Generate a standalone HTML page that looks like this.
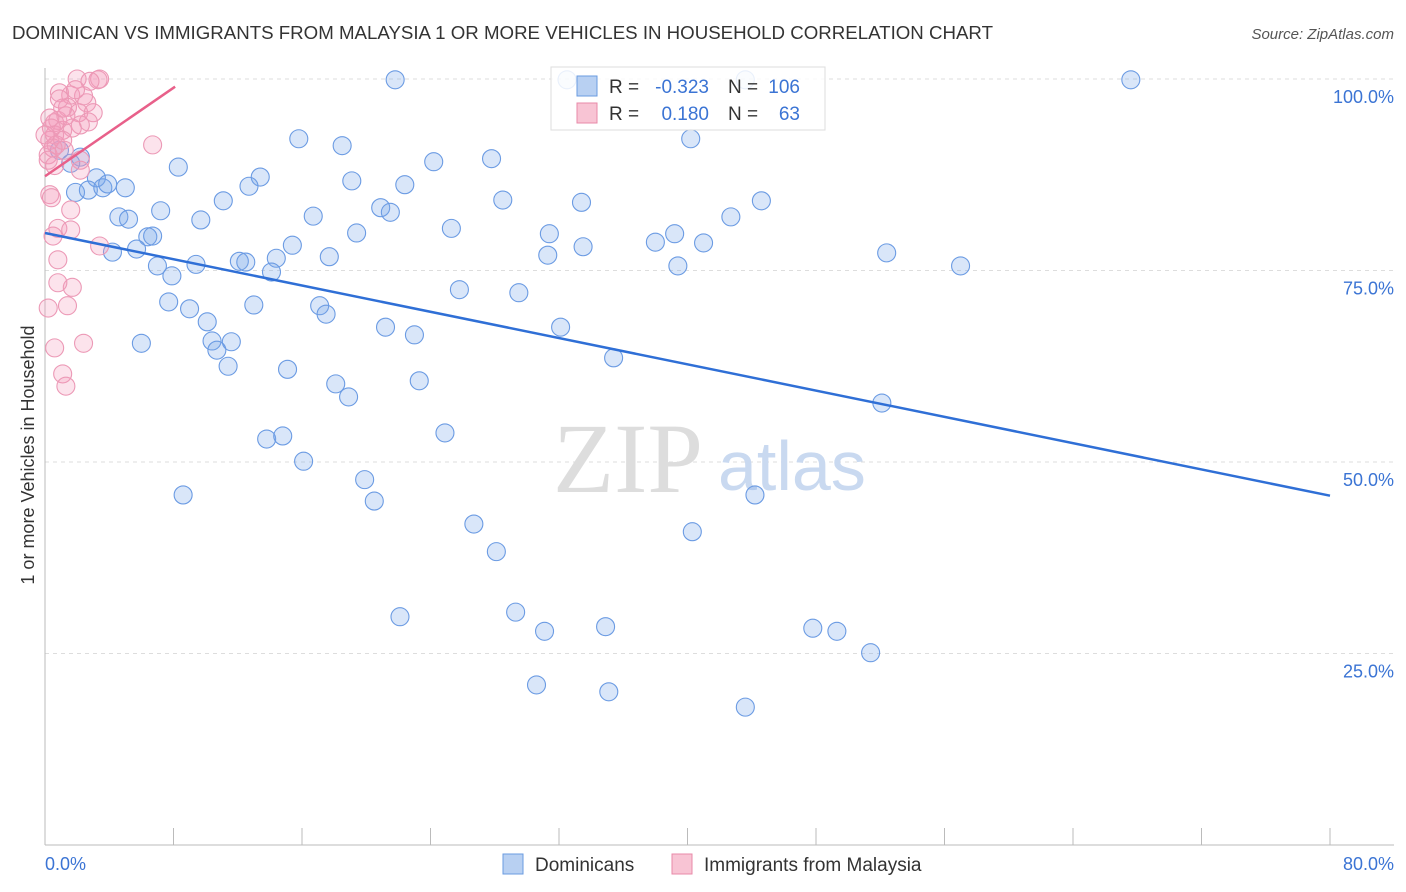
<!DOCTYPE html>
<html><head><meta charset="utf-8"><style>
body{margin:0;background:#fff;font-family:"Liberation Sans",sans-serif;}
svg{display:block}
</style></head><body>
<svg width="1406" height="892">
<text x="12" y="39" font-size="18" fill="#333" textLength="981" lengthAdjust="spacingAndGlyphs">DOMINICAN VS IMMIGRANTS FROM MALAYSIA 1 OR MORE VEHICLES IN HOUSEHOLD CORRELATION CHART</text>
<text x="1394" y="39" font-size="15" fill="#555" font-style="italic" text-anchor="end">Source: ZipAtlas.com</text>
<g id="grid"></g>
<text x="553" y="492" font-size="100" fill="#ddd" font-family="Liberation Serif,serif">ZIP</text>
<text x="718" y="490" font-size="70" fill="#c9d9f0">atlas</text>
<g id="pts"></g>
<g id="lines"></g>
<text x="34" y="455" font-size="18" fill="#333" text-anchor="middle" transform="rotate(-90 34 455)">1 or more Vehicles in Household</text>
<text x="45" y="870" font-size="18" fill="#3b74d4">0.0%</text>
<text x="1394" y="870" font-size="18" fill="#3b74d4" text-anchor="end">80.0%</text>
<g>
<rect x="551" y="67" width="274" height="63" fill="#fff" fill-opacity="0.85" stroke="#ddd"/>
<rect x="577" y="76" width="20" height="20" fill="#b8d0f2" stroke="#6a9be0"/>
<rect x="577" y="103" width="20" height="20" fill="#f8c4d4" stroke="#e88aa8"/>
<text x="609" y="93" font-size="19" fill="#333">R =</text>
<text x="709" y="93" font-size="19" fill="#3b74d4" text-anchor="end">-0.323</text>
<text x="728" y="93" font-size="19" fill="#333">N =</text>
<text x="800" y="93" font-size="19" fill="#3b74d4" text-anchor="end">106</text>
<text x="609" y="120" font-size="19" fill="#333">R =</text>
<text x="709" y="120" font-size="19" fill="#3b74d4" text-anchor="end">0.180</text>
<text x="728" y="120" font-size="19" fill="#333">N =</text>
<text x="800" y="120" font-size="19" fill="#3b74d4" text-anchor="end">63</text>
</g>
<g>
<rect x="503" y="854" width="20" height="20" fill="#b8d0f2" stroke="#6a9be0"/>
<text x="535" y="871" font-size="19" fill="#333">Dominicans</text>
<rect x="672" y="854" width="20" height="20" fill="#f8c4d4" stroke="#e88aa8"/>
<text x="704" y="871" font-size="19" fill="#333">Immigrants from Malaysia</text>
</g>
</svg>
<script>
const blueX=[21.8,67.6,15.8,18.5,40.2,8.3,24.2,27.8,0.9,2.2,1.6,3.2,1.9,2.7,3.6,3.9,5.0,13.4,12.7,19.1,22.4,11.1,28.5,33.4,44.6,7.2,4.6,5.2,9.7,16.7,20.9,21.5,42.7,25.3,19.4,31.4,39.2,6.4,6.7,5.7,4.2,15.4,38.0,41.0,33.5,31.3,52.4,12.1,12.5,14.4,17.7,7.0,9.4,14.1,7.9,39.4,57.0,25.8,29.5,7.7,13.0,9.0,17.1,17.5,10.1,21.2,23.0,32.1,10.4,11.6,6.0,10.7,11.4,15.1,35.4,18.1,23.3,18.9,52.1,24.9,13.8,14.8,16.1,19.9,8.6,20.5,44.2,26.7,40.3,28.1,22.1,29.3,31.1,34.9,47.8,49.3,51.4,30.6,35.1,43.6,32.5,43.6];
const blueY=[99.9,99.9,92.2,91.3,92.2,88.5,89.2,89.6,90.7,89.8,89.0,87.1,85.2,85.5,85.8,86.3,85.8,87.2,86.0,86.7,86.2,84.1,84.2,83.9,84.1,82.8,82.0,81.7,81.6,82.1,83.2,82.6,82.0,80.5,79.9,79.8,79.8,79.4,79.5,77.8,77.4,78.3,78.7,78.6,78.1,77.0,77.3,76.2,76.1,76.6,76.8,75.6,75.8,74.8,74.3,75.6,75.6,72.5,72.1,70.9,70.5,70.0,70.4,69.3,68.3,67.6,66.6,67.6,65.8,65.7,65.5,64.6,62.5,62.1,63.6,60.2,60.6,58.5,57.7,53.8,53.0,53.4,50.1,47.7,45.7,44.9,45.7,41.9,40.9,38.3,29.8,30.4,27.9,28.5,28.3,27.9,25.1,20.9,20.0,18.0,99.9,99.9];
const pinkX=[2.0,3.3,3.4,2.8,1.6,0.9,2.6,1.4,2.1,3.0,2.7,0.6,2.2,1.1,0.6,0.3,0.7,1.2,0.2,0.5,0.8,1.7,1.3,2.4,6.7,2.2,2.2,0.3,0.4,1.6,0.8,0.5,1.6,3.4,0.8,1.7,0.8,1.4,0.2,0.6,2.4,1.1,1.3,1.1,0.4,0.9,1.9,0.2,0.6,1.1,0.0,0.3];
const pinkY=[100,99.9,100,99.7,97.9,98.2,96.9,96.3,95.6,95.6,94.4,94.3,94.0,93.3,92.7,92.0,91.4,90.7,90.1,91.0,94.6,93.6,95.2,97.8,91.4,89.4,88.1,84.9,84.5,82.9,80.5,79.5,80.3,78.2,76.4,72.8,73.4,70.4,70.1,64.9,65.5,61.5,59.9,92.0,93.6,97.4,98.6,89.4,88.7,96.2,92.7,94.9];
const blueTrend=[0,79.9,80,45.6];
const pinkTrend=[0,87.3,8.1,99.0];
const yTicks=[100,75,50,25];
const yTickLabels=["100.0%","75.0%","50.0%","25.0%"];
const xTicks=[0,8,16,24,32,40,48,56,64,72,80];
const NS="http://www.w3.org/2000/svg";
const xs=v=>45+v/80*1285;
const ys=v=>845-v/100*766;
function mk(t,a,p){const e=document.createElementNS(NS,t);for(const k in a)e.setAttribute(k,a[k]);p.appendChild(e);return e;}
const g=document.getElementById('grid');
yTicks.forEach((t,i)=>{
 const l=mk('line',{x1:45,x2:1394,y1:ys(t),y2:ys(t),stroke:'#ddd','stroke-dasharray':'4 4'},g);
 
 
 const tx=mk('text',{x:1394,y:ys(t)+24,'font-size':18,fill:'#3b74d4','text-anchor':'end'},g);
 tx.textContent=yTickLabels[i];
 
 
});
const ax=mk('line',{x1:45,x2:1394,y1:845,y2:845,stroke:'#bbb'},g);


const ay=mk('line',{x1:45,x2:45,y1:68,y2:845,stroke:'#bbb'},g);


xTicks.forEach(t=>{
 const l=mk('line',{x1:xs(t),x2:xs(t),y1:828,y2:845,stroke:'#bbb'},g);
 
 
});
const p=document.getElementById('pts');
blueX.forEach((x,i)=>{
 const c=mk('circle',{cx:xs(x),cy:ys(blueY[i]),r:9,fill:'rgba(120,165,235,0.28)',stroke:'#6b9be3','stroke-width':1.1},p);
 
 
});
pinkX.forEach((x,i)=>{
 const c=mk('circle',{cx:xs(x),cy:ys(pinkY[i]),r:9,fill:'rgba(245,155,185,0.28)',stroke:'#ec99b6','stroke-width':1.1},p);
 
 
});
const L=document.getElementById('lines');
const bl=mk('line',{x1:xs(blueTrend[0]),y1:ys(blueTrend[1]),x2:xs(blueTrend[2]),y2:ys(blueTrend[3]),stroke:'#2f6fd6','stroke-width':2.5},L);


const pl=mk('line',{x1:xs(pinkTrend[0]),y1:ys(pinkTrend[1]),x2:xs(pinkTrend[2]),y2:ys(pinkTrend[3]),stroke:'#e8608a','stroke-width':2.5},L);


</script>
</body></html>
